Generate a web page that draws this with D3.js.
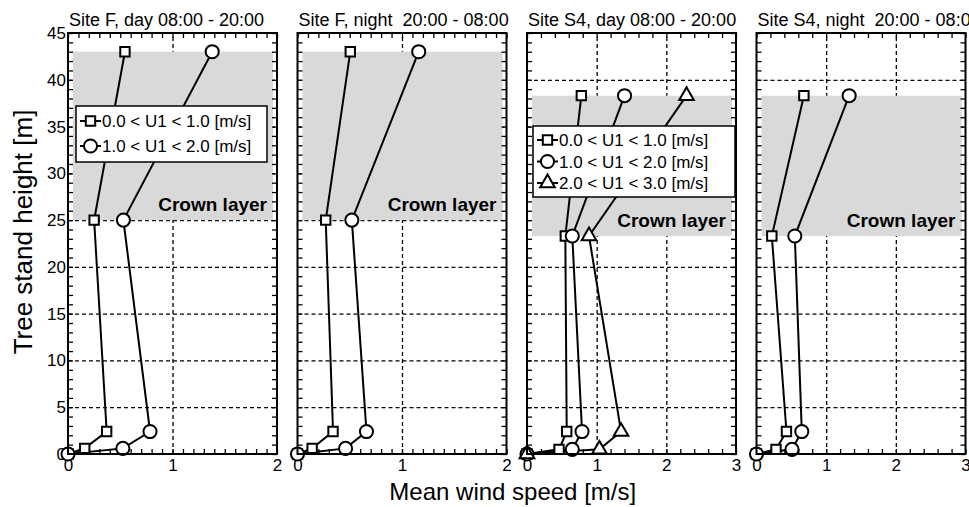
<!DOCTYPE html>
<html>
<head>
<meta charset="utf-8">
<script src="https://cdn.jsdelivr.net/npm/d3@7"></script>
<style>
  body { margin: 0; background: #fff; }
  svg { font-family: "Liberation Sans", Arial, sans-serif; }
</style>
</head>
<body>
<div id="chart"></div>
<script>

// heights of the measurement levels [m]
let heightF = [0, 0.6, 2.4, 25, 43],
    heightS4 = [0, 0.5, 2.4, 23.3, 38.3];

// crown layer (bottom, top) [m]
let crownF = [25, 43],
    crownS4 = [23.3, 38.3];

// mean wind speed [m/s], one value per level
let fDayLow = [0, 0.16, 0.37, 0.25, 0.545],
    fDayMid = [0, 0.525, 0.785, 0.53, 1.38],
    fNightLow = [0, 0.14, 0.34, 0.27, 0.505],
    fNightMid = [0, 0.46, 0.66, 0.52, 1.16],
    s4DayLow = [0, 0.46, 0.57, 0.55, 0.78],
    s4DayMid = [0, 0.65, 0.79, 0.65, 1.40],
    s4DayHigh = [0, 1.04, 1.35, 0.89, 2.29],
    s4NightLow = [0, 0.28, 0.43, 0.22, 0.68],
    s4NightMid = [0, 0.51, 0.65, 0.55, 1.33];

let titles = ["Site F, day 08:00 - 20:00", "Site F, night  20:00 - 08:00",
              "Site S4, day 08:00 - 20:00", "Site S4, night  20:00 - 08:00"];
let legendLabels = ["0.0 < U1 < 1.0 [m/s]", "1.0 < U1 < 2.0 [m/s]", "2.0 < U1 < 3.0 [m/s]"];
let xMax = [2, 2, 3, 3];
let yTicks = [0, 5, 10, 15, 20, 25, 30, 35, 40, 45];

let panels = [
    {title: titles[0], xMax: xMax[0], heights: heightF, crown: crownF, series: [fDayLow, fDayMid], legend: true},
    {title: titles[1], xMax: xMax[1], heights: heightF, crown: crownF, series: [fNightLow, fNightMid]},
    {title: titles[2], xMax: xMax[2], heights: heightS4, crown: crownS4, series: [s4DayLow, s4DayMid, s4DayHigh], legend: true},
    {title: titles[3], xMax: xMax[3], heights: heightS4, crown: crownS4, series: [s4NightLow, s4NightMid]}
];

let margin = {left: 68, top: 33},
    width = 969, height = 507,
    pw = 209, ph = 421, gap = 20.5;

let shapes = [d3.symbolSquare, d3.symbolCircle, d3.symbolTriangle],
    sizes = [88, 135, 92];

let svg = d3.select("#chart").append("svg")
    .attr("width", width)
    .attr("height", height);

let y = d3.scaleLinear().domain([0, 45]).range([ph, 0]);

function marker(g, i) {
    return g.append("path")
        .attr("d", d3.symbol().type(shapes[i]).size(sizes[i]))
        .attr("fill", "#fff")
        .attr("stroke", "#000")
        .attr("stroke-width", 2);
}

function tickAxis(g, axis, values, size) {
    g.call(axis.tickValues(values).tickSize(size).tickFormat(""));
    g.select(".domain").remove();
    g.selectAll("line").attr("stroke", "#000").attr("stroke-width", 1.3);
}

panels.forEach(function(p, k) {
    let x = d3.scaleLinear().domain([0, p.xMax]).range([0, pw]);
    let minorStep = p.xMax === 2 ? 0.1 : 0.2;
    let xMinor = d3.range(0, p.xMax + 1e-6, minorStep);
    let yMinor = d3.range(0, 46, 1);

    let g = svg.append("g")
        .attr("transform", "translate(" + (margin.left + k * (pw + gap)) + "," + margin.top + ")");

    // grid
    let grid = g.append("g");
    grid.append("g").attr("transform", "translate(0," + ph + ")")
        .call(d3.axisBottom(x).tickValues(d3.range(1, p.xMax)).tickSize(-ph).tickFormat(""));
    grid.append("g")
        .call(d3.axisLeft(y).tickValues(d3.range(5, 45, 5)).tickSize(-pw).tickFormat(""));
    grid.selectAll(".domain").remove();
    grid.selectAll(".tick line")
        .attr("stroke", "#000")
        .attr("stroke-width", 1.3)
        .attr("stroke-dasharray", "4,3");

    // crown layer
    g.append("rect")
        .attr("x", 5)
        .attr("width", pw - 9)
        .attr("y", y(p.crown[1]))
        .attr("height", y(p.crown[0]) - y(p.crown[1]))
        .attr("fill", "#d9d9d9");

    g.append("text")
        .attr("x", pw - 10)
        .attr("y", y(p.crown[0]) - 9)
        .attr("text-anchor", "end")
        .attr("font-size", 19)
        .attr("font-weight", "bold")
        .text("Crown layer");

    // minor ticks, inward
    tickAxis(g.append("g").attr("transform", "translate(0," + ph + ")"), d3.axisBottom(x), xMinor, -5);
    tickAxis(g.append("g"), d3.axisTop(x), xMinor, -5);
    tickAxis(g.append("g"), d3.axisLeft(y), yMinor, -5);
    tickAxis(g.append("g").attr("transform", "translate(" + pw + ",0)"), d3.axisRight(y), yMinor, -5);

    // tick labels
    let lx = g.append("g").attr("transform", "translate(0," + ph + ")")
        .call(d3.axisBottom(x).ticks(p.xMax).tickFormat(d3.format("d")).tickSize(0).tickPadding(5));
    lx.select(".domain").remove();
    lx.selectAll("text").attr("font-size", 17).attr("fill", "#000");
    lx.attr("font-family", null);
    if (k === 0) {
        let ly = g.append("g")
            .call(d3.axisLeft(y).tickValues(yTicks).tickSize(0).tickPadding(2));
        ly.select(".domain").remove();
        ly.selectAll("text").attr("font-size", 17).attr("fill", "#000");
        ly.attr("font-family", null);
    }

    // title
    g.append("text")
        .attr("x", 1)
        .attr("y", -7)
        .attr("font-size", 18)
        .style("white-space", "pre")
        .text(p.title);

    // profiles
    let line = d3.line()
        .x(function(d) { return x(d.v); })
        .y(function(d) { return y(d.h); });

    p.series.forEach(function(s) {
        let pts = s.map(function(v, j) { return {v: v, h: p.heights[j]}; });
        g.append("path")
            .datum(pts)
            .attr("d", line)
            .attr("fill", "none")
            .attr("stroke", "#000")
            .attr("stroke-width", 2);
    });
    p.series.forEach(function(s, i) {
        s.forEach(function(v, j) {
            marker(g, i).attr("transform", "translate(" + x(v) + "," + y(p.heights[j]) + ")");
        });
    });

    // legend
    if (p.legend) {
        let n = p.series.length;
        let box = k === 0 ? {x: 8, y: 73, w: 191, h: 56, row: 25, first: 15}
                          : {x: 6, y: 93, w: 202, h: 71, row: 21.5, first: 14};
        let lg = g.append("g").attr("transform", "translate(" + box.x + "," + box.y + ")");
        lg.append("rect")
            .attr("width", box.w)
            .attr("height", box.h)
            .attr("fill", "#fff")
            .attr("stroke", "#000")
            .attr("stroke-width", 1.5);
        for (let i = 0; i < n; i++) {
            let ry = box.first + i * box.row;
            lg.append("line")
                .attr("x1", 4).attr("x2", 25)
                .attr("y1", ry).attr("y2", ry)
                .attr("stroke", "#000")
                .attr("stroke-width", 2);
            marker(lg, i).attr("transform", "translate(14.5," + ry + ")");
            lg.append("text")
                .attr("x", 26)
                .attr("y", ry + 6)
                .attr("font-size", 17)
                .text(legendLabels[i]);
        }
    }

    // frame
    g.append("rect")
        .attr("width", pw)
        .attr("height", ph)
        .attr("fill", "none")
        .attr("stroke", "#000")
        .attr("stroke-width", 2);
});

// axis titles
svg.append("text")
    .attr("x", margin.left + (4 * pw + 3 * gap) / 2 - 4)
    .attr("y", 500)
    .attr("text-anchor", "middle")
    .attr("font-size", 24)
    .text("Mean wind speed [m/s]");

svg.append("text")
    .attr("transform", "translate(32,232) rotate(-90)")
    .attr("text-anchor", "middle")
    .attr("font-size", 26)
    .text("Tree stand height [m]");

</script>
</body>
</html>
